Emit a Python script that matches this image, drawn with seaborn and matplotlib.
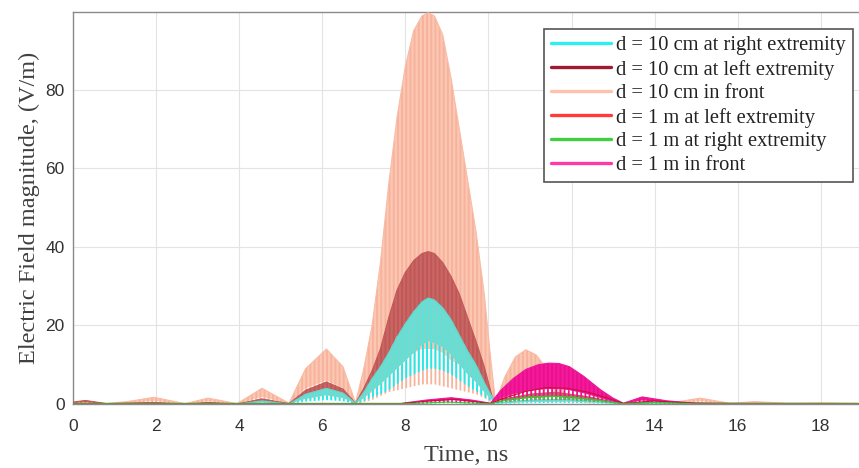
import matplotlib
matplotlib.use("Agg")
import numpy as np
import pandas as pd
import matplotlib.pyplot as plt
import seaborn as sns
from matplotlib.lines import Line2D

# ---- envelope data (time in ns, field in V/m) ----
# each series: upper envelope, lower edge of the dense band, lower tip of the oscillation
front10_t = [0.0, 0.35, 0.8, 1.3, 1.95, 2.7, 3.25, 3.95, 4.55, 5.2, 5.6, 6.1, 6.5, 6.8, 7.0, 7.2,
             7.4, 7.6, 7.8, 8.0, 8.2, 8.4, 8.55, 8.7, 8.9, 9.1, 9.3, 9.5, 9.7, 9.9, 10.05, 10.17,
             10.4, 10.65, 10.9, 11.15, 11.4, 11.65, 11.95, 12.4, 12.9, 13.25, 13.8, 14.4, 15.1,
             15.8, 16.4, 17.2, 18.0, 18.9]
front10_hi = [0.3, 0.7, 0.1, 0.6, 1.7, 0.1, 1.5, 0.1, 4.0, 0.2, 9.0, 14.0, 9.5, 0.3, 9.0, 20.0,
              36.0, 56.0, 73.0, 86.0, 95.0, 98.8, 99.6, 98.8, 94.0, 83.0, 70.0, 57.0, 44.0, 28.0,
              12.0, 0.5, 7.0, 12.0, 13.8, 12.5, 9.0, 5.0, 1.5, 1.8, 1.0, 0.2, 0.6, 0.3, 1.5,
              0.2, 0.6, 0.2, 0.3, 0.2]
front10_mid = [0.1, 0.3, 0.0, 0.2, 0.8, 0.0, 0.7, 0.0, 1.8, 0.1, 4.0, 6.0, 4.0, 0.1, 1.5, 3.0,
               5.0, 8.0, 10.0, 12.0, 13.0, 14.0, 14.0, 14.0, 13.0, 11.0, 10.0, 8.0, 6.0, 4.0,
               2.0, 0.1, 3.5, 6.0, 7.0, 6.5, 4.5, 2.5, 0.7, 0.9, 0.5, 0.1, 0.3, 0.1, 0.7,
               0.1, 0.3, 0.1, 0.1, 0.1]
front10_lo = [0.0, 0.1, 0.0, 0.1, 0.3, 0.0, 0.3, 0.0, 0.5, 0.0, 1.0, 1.5, 1.0, 0.0, 0.5, 1.0,
              2.0, 3.0, 3.5, 4.0, 4.5, 5.0, 5.0, 5.0, 4.5, 4.0, 3.5, 3.0, 2.5, 1.5,
              0.5, 0.0, 1.0, 1.5, 2.0, 1.8, 1.2, 0.6, 0.2, 0.3, 0.2, 0.0, 0.1, 0.0, 0.3,
              0.0, 0.1, 0.0, 0.0, 0.0]

left10_t = [0.0, 0.3, 0.8, 1.95, 2.7, 3.25, 3.95, 4.55, 5.2, 5.6, 6.1, 6.5, 6.8, 7.0, 7.2, 7.4,
            7.6, 7.8, 8.0, 8.2, 8.4, 8.55, 8.7, 8.9, 9.1, 9.3, 9.5, 9.7, 9.9, 10.1, 10.5, 11.0,
            11.6, 12.3, 13.2, 14.0, 15.0, 16.0, 18.9]
left10_hi = [0.5, 0.9, 0.1, 0.4, 0.0, 0.4, 0.0, 1.3, 0.1, 3.5, 5.6, 3.8, 0.2, 4.0, 8.5, 14.0,
             22.0, 29.0, 33.5, 36.5, 38.3, 38.8, 38.3, 36.0, 32.5, 28.0, 22.0, 16.0, 9.5, 1.5,
             1.5, 2.5, 3.0, 2.0, 0.1, 0.4, 0.3, 0.1, 0.1]
left10_mid = [0.3, 0.5, 0.0, 0.2, 0.0, 0.2, 0.0, 0.8, 0.0, 2.1, 3.4, 2.3, 0.1, 2.4, 5.1, 8.4,
              13.2, 17.4, 20.1, 21.9, 23.0, 23.3, 23.0, 21.6, 19.5, 16.8, 13.2, 9.6, 5.7, 0.9,
              0.9, 1.5, 1.8, 1.2, 0.0, 0.2, 0.2, 0.0, 0.0]
left10_lo = [0.2, 0.4, 0.0, 0.2, 0.0, 0.2, 0.0, 0.6, 0.0, 1.6, 2.5, 1.7, 0.1, 1.8, 3.8, 6.3,
             9.9, 13.0, 15.1, 16.4, 17.2, 17.5, 17.2, 16.2, 14.6, 12.6, 9.9, 7.2, 4.3, 0.7,
             0.7, 1.1, 1.4, 0.9, 0.0, 0.2, 0.1, 0.0, 0.0]

right10_t = [0.0, 4.0, 4.55, 5.2, 5.6, 6.1, 6.5, 6.8, 7.0, 7.2, 7.4, 7.6, 7.8, 8.0, 8.2, 8.4,
             8.55, 8.7, 8.9, 9.1, 9.3, 9.5, 9.7, 9.9, 10.05, 10.2, 11.0, 12.0, 13.2, 18.9]
right10_hi = [0.0, 0.0, 0.8, 0.0, 2.5, 4.0, 2.8, 0.2, 3.0, 6.5, 9.5, 13.0, 17.0, 20.5, 23.5, 26.0,
              27.0, 26.5, 24.5, 21.5, 17.5, 13.5, 10.0, 5.5, 2.5, 0.3, 1.0, 1.2, 0.0, 0.0]
right10_mid = [0.0, 0.0, 0.4, 0.0, 1.3, 2.2, 1.5, 0.1, 1.5, 3.5, 5.0, 7.0, 9.0, 11.0, 13.0, 15.0,
               16.0, 15.5, 14.5, 12.5, 10.0, 7.5, 5.5, 3.0, 1.3, 0.1, 0.5, 0.6, 0.0, 0.0]
right10_lo = [0.0, 0.0, 0.2, 0.0, 0.6, 1.0, 0.7, 0.0, 0.7, 1.7, 2.5, 3.5, 5.0, 6.5, 7.5, 8.5,
              9.0, 9.0, 8.5, 7.5, 6.0, 4.5, 3.3, 1.8, 0.8, 0.0, 0.2, 0.3, 0.0, 0.0]

front1_t = [0.0, 7.9, 8.5, 9.1, 9.6, 10.05, 10.3, 10.6, 10.9, 11.2, 11.45, 11.7, 11.95, 12.3,
            12.7, 13.0, 13.25, 13.7, 14.3, 15.0, 18.9]
front1_hi = [0.15, 0.15, 1.0, 1.6, 1.0, 0.2, 3.5, 6.5, 8.8, 10.0, 10.4, 10.3, 9.5, 7.0,
             3.6, 1.5, 0.2, 1.8, 0.8, 0.2, 0.15]
front1_mid = [0.1, 0.1, 0.6, 1.0, 0.6, 0.1, 1.5, 2.5, 3.2, 3.6, 3.8, 3.8, 3.5, 2.7,
              1.5, 0.6, 0.1, 0.9, 0.4, 0.1, 0.1]
front1_lo = [0.0, 0.0, 0.2, 0.3, 0.2, 0.0, 0.4, 0.7, 0.9, 1.0, 1.0, 1.0, 1.0, 0.8,
             0.5, 0.2, 0.0, 0.3, 0.1, 0.0, 0.0]

left1_t = [0.0, 7.9, 8.6, 9.2, 10.05, 10.4, 10.9, 11.4, 11.9, 12.4, 12.9, 13.25, 14.0, 15.0, 18.9]
left1_hi = [0.1, 0.1, 0.8, 1.2, 0.1, 1.6, 3.2, 4.2, 4.0, 3.0, 1.4, 0.1, 0.8, 0.1, 0.1]

right1_t = [0.0, 8.0, 9.0, 10.05, 10.5, 11.0, 11.5, 12.0, 12.5, 13.25, 14.0, 15.0, 18.9]
right1_hi = [0.05, 0.05, 0.5, 0.05, 1.2, 1.8, 2.0, 1.8, 1.2, 0.05, 0.4, 0.05, 0.05]
right1_lo = [0.0, 0.0, 0.2, 0.0, 0.6, 1.0, 1.1, 1.0, 0.6, 0.0, 0.1, 0.0, 0.0]

labels = ["d = 10 cm at right extremity", "d = 10 cm at left extremity", "d = 10 cm in front",
          "d = 1 m at left extremity", "d = 1 m at right extremity", "d = 1 m in front"]
legend_colors = ["#2ef0f0", "#9e1b32", "#ffc2ae", "#ff3b3b", "#3fcf3f", "#ff3aa8"]
x_ticks = [0, 2, 4, 6, 8, 10, 12, 14, 16, 18]
y_ticks = [0, 20, 40, 60, 80]

# ---- style ----
sns.set_theme(style="white")
plt.rcParams["hatch.linewidth"] = 1.3
serif = ["Liberation Serif", "DejaVu Serif"]
sans = ["Liberation Sans", "DejaVu Sans"]

fig = plt.figure(figsize=(8.59, 4.68), dpi=100)
ax = fig.add_axes([73 / 859, 1 - 404 / 468, 786 / 859, 392 / 468])

# upper envelopes through seaborn
env = pd.concat([
    pd.DataFrame({"t": right10_t, "E": right10_hi, "series": labels[0]}),
    pd.DataFrame({"t": left10_t, "E": left10_hi, "series": labels[1]}),
    pd.DataFrame({"t": front10_t, "E": front10_hi, "series": labels[2]}),
    pd.DataFrame({"t": left1_t, "E": left1_hi, "series": labels[3]}),
    pd.DataFrame({"t": right1_t, "E": right1_hi, "series": labels[4]}),
    pd.DataFrame({"t": front1_t, "E": front1_hi, "series": labels[5]}),
], ignore_index=True)
edge_colors = {labels[0]: "#5fd8cc", labels[1]: "#c25a5a", labels[2]: "#f9bca6",
               labels[3]: "#c8103c", labels[4]: "#33c833", labels[5]: "#f0169a"}
sns.lineplot(data=env, x="t", y="E", hue="series", hue_order=labels, palette=edge_colors,
             estimator=None, sort=False, linewidth=0.8, legend=False, ax=ax)
line_z = [5.5, 4.5, 3.5, 7.5, 8.5, 6.5]
for ln, z in zip(ax.lines, line_z):
    ln.set_zorder(z)


def band(t, lo, mid, hi, solid, stripe_lo, stripe_hi, z):
    # sparse oscillation tips
    ax.fill_between(t, lo, mid, facecolor="none", edgecolor=stripe_lo, hatch="||||",
                    linewidth=0, zorder=z)
    # dense part of the oscillation
    ax.fill_between(t, mid, hi, facecolor=solid, edgecolor=stripe_hi, hatch="||||",
                    linewidth=0, zorder=z)


band(front10_t, front10_lo, front10_mid, front10_hi, "#fbc6b2", "#f8b39c", "#f7b29b", 3)
band(left10_t, left10_lo, left10_mid, left10_hi, "#c96664", "#b84c4c", "#bf5757", 4)
band(right10_t, right10_lo, right10_mid, right10_hi, "#76d8cd", "#17eeee", "#5fe2d8", 5)
band(front1_t, front1_lo, front1_mid, front1_hi, "#f51a9c", "#ee1090", "#e8108c", 6)
ax.fill_between(right1_t, right1_lo, right1_hi, facecolor="none", edgecolor="#3ad03a",
                hatch="||||", linewidth=0, zorder=8)

# ---- axes ----
ax.set_xlim(0, 18.92)
ax.set_ylim(0, 99.8)
ax.set_xticks(x_ticks)
ax.set_yticks(y_ticks)
ax.grid(True, color="#e3e3e3", linewidth=0.8)
ax.set_axisbelow(True)
for side in ["top", "left", "bottom"]:
    ax.spines[side].set_color("#8a8a8a")
    ax.spines[side].set_linewidth(1.0)
ax.spines["right"].set_visible(False)
ax.tick_params(direction="in", length=4, width=0.8, color="#555555", labelcolor="#333333",
               labelsize=12.5)
ax.tick_params(axis="x", pad=11)
ax.tick_params(axis="y", pad=6)
for lab in ax.get_xticklabels() + ax.get_yticklabels():
    lab.set_family(sans)

ax.set_xlabel("Time, ns", family=serif, fontsize=17.5, color="#404040", labelpad=8)
ax.set_ylabel("Electric Field magnitude, (V/m)", family=serif, fontsize=17.5, color="#404040",
              labelpad=4)

handles = [Line2D([], [], color=c, lw=2.4) for c in legend_colors]
leg = ax.legend(handles, labels, loc="upper right", bbox_to_anchor=(0.992, 0.957),
                borderaxespad=0, frameon=True, fancybox=False, framealpha=1,
                prop={"family": serif, "size": 14.8}, labelspacing=0.21, borderpad=0.35,
                handlelength=2.9, handletextpad=0.25, labelcolor="#222222")
leg.get_frame().set_edgecolor("#555555")
leg.get_frame().set_linewidth(1.2)
leg.set_zorder(20)

fig.savefig("out.png", dpi=100)
